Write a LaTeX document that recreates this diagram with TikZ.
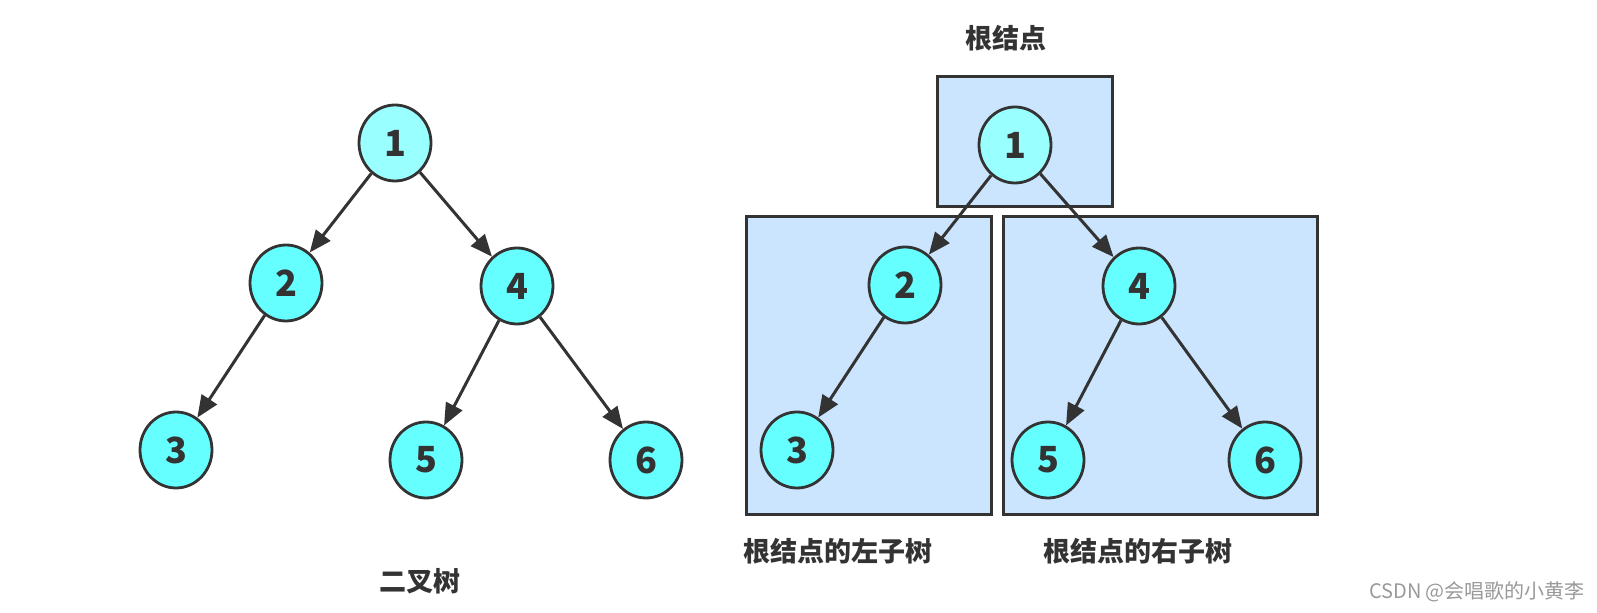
\documentclass[tikz,border=0pt]{standalone}
\usepackage{fontspec}
\setmainfont{Noto Sans CJK SC}
\usetikzlibrary{arrows.meta,shapes.geometric}
\definecolor{ink}{HTML}{333333}
\definecolor{nodecyan}{HTML}{66FFFF}
\definecolor{rootcyan}{HTML}{99FFFF}
\definecolor{boxblue}{HTML}{CCE5FF}
\begin{document}
\begin{tikzpicture}[x=0.5pt,y=-0.5pt]
        \tikzstyle{treenode}=[ellipse,line width=1.4pt,draw=ink,fill=nodecyan,minimum width=36pt,minimum height=38pt,inner sep=0pt,text=ink,font=\fontsize{18}{18}\selectfont\bfseries]
        \tikzstyle{rootnode}=[treenode,fill=rootcyan]
        \tikzstyle{edge}=[draw,line width=1.5pt,ink,-{Triangle[length=11pt,width=9pt]}]
        \tikzstyle{subbox}=[draw=ink,line width=1.5pt,fill=boxblue]
        \tikzstyle{caption}=[text=ink,font=\fontsize{13.5}{14}\selectfont\bfseries]
        \useasboundingbox (0,0) rectangle (1597,613);
       % left: whole binary tree
       \begin{scope}
         \node [rootnode] (a1) at (395,143) {1};
         \node [treenode] (a2) at (286,283) {2};
         \node [treenode] (a4) at (517,286) {4};
         \node [treenode] (a3) at (176,450) {3};
         \node [treenode] (a5) at (426,460) {5};
         \node [treenode] (a6) at (646,460) {6};
         
         \path[edge] (a1) edge (a2);
         \path[edge] (a1) edge (a4);
         \path[edge] (a2) edge (a3);
         \path[edge] (a4) edge (a5);
         \path[edge] (a4) edge (a6);
         
         \node [caption] (atitle) at (420,581) {二叉树};
        \end{scope}
       % right: root and its two subtrees
       \begin{scope}
         \draw [subbox] (937,77) rectangle (1112,207);
         \draw [subbox] (746,217) rectangle (991,515);
         \draw [subbox] (1003,217) rectangle (1317,515);
         
         \node [rootnode] (b1) at (1015,145) {1};
         \node [treenode] (b2) at (905,285) {2};
         \node [treenode] (b4) at (1139,286) {4};
         \node [treenode] (b3) at (797,450) {3};
         \node [treenode] (b5) at (1048,460) {5};
         \node [treenode] (b6) at (1265,460) {6};
         
         \path[edge] (b1) edge (b2);
         \path[edge] (b1) edge (b4);
         \path[edge] (b2) edge (b3);
         \path[edge] (b4) edge (b5);
         \path[edge] (b4) edge (b6);
         
         \node [caption] (broot) at (1006,38) {根结点};
         \node [caption] (bleft) at (838,551) {根结点的左子树};
         \node [caption] (bright) at (1138,551) {根结点的右子树};
        \end{scope}
        \node [text=black!40,font=\fontsize{10}{12}\selectfont] (mark) at (1477,592) {CSDN @会唱歌的小黄李};
      \end{tikzpicture}
\end{document}
